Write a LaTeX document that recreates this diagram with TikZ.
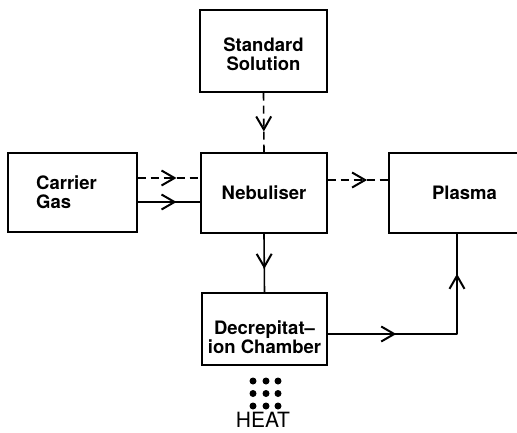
\documentclass[tikz,border=0pt]{standalone}
\usepackage{fontspec}
\setmainfont{TeX Gyre Heros}
\usetikzlibrary{arrows.meta,decorations.markings}
\tikzset{
  blktext/.style={inner sep=0pt, align=center,
    font=\bfseries\fontsize{18.5}{19}\selectfont},
  blk/.style={draw, line width=1.4pt, blktext},
  flow/.style={line width=1.6pt, postaction={decorate},
    decoration={markings, mark=at position #1 with {\arrow{Straight Barb[length=13pt,width=15pt,line width=2pt]}}}},
  flow/.default=0.6,
  dsh/.style={dash pattern=on 8pt off 5pt},
  dot/.style={circle, fill=black, inner sep=0pt, minimum size=7pt}
}
\begin{document}
\begin{tikzpicture}[x=1pt,y=-1pt]
\clip (0,0) rectangle (517,432);
\useasboundingbox (0,0) rectangle (517,432);
\node[blk, minimum width=127pt, minimum height=82pt,
  label={[blktext, yshift=-3pt]center:Standard\\Solution}] (std) at (263.5,51) {};
\node[blk, minimum width=126pt, minimum height=80pt] (neb) at (264,193) {Nebuliser};
\node[blk, minimum width=129pt, minimum height=79pt,
  label={[blktext, align=left, xshift=-6pt]center:Carrier\\Gas}] (car) at (72.5,192.5) {};
\node[blk, minimum width=151pt, minimum height=80pt] (pla) at (464.5,193) {Plasma};
\node[blk, minimum width=125pt, minimum height=72pt,
  label={[blktext, yshift=-8pt]center:Decrepitat–\\ion Chamber}] (dec) at (264.5,329) {};
\coordinate (corner) at (457,334);
% connectors
\draw[flow=0.65, dsh] (std.south) -- (neb.north);
\draw[flow=0.62, dsh] (car.east |- 0,178) -- (neb.west |- 0,178);
\draw[flow=0.62] (car.east |- 0,202) -- (neb.west |- 0,202);
\draw[flow=0.65, dsh] (neb.east |- 0,180) -- (pla.west |- 0,180);
\draw[flow=0.6] (neb.south) -- (dec.north);
\draw[flow=0.53, line cap=round] (dec.east |- corner) -- (corner);
\draw[flow=0.6] (corner) -- (pla.south -| corner);
% heat
\foreach \i [count=\k] in {253,266,278}{
  \foreach \j [count=\m] in {381,393.5,406}{
    \node[dot] (d\k\m) at (\i,\j) {};
  }
}
\node[font=\fontsize{21}{24}\selectfont] (heat) at (263,420) {HEAT};
\end{tikzpicture}
\end{document}
